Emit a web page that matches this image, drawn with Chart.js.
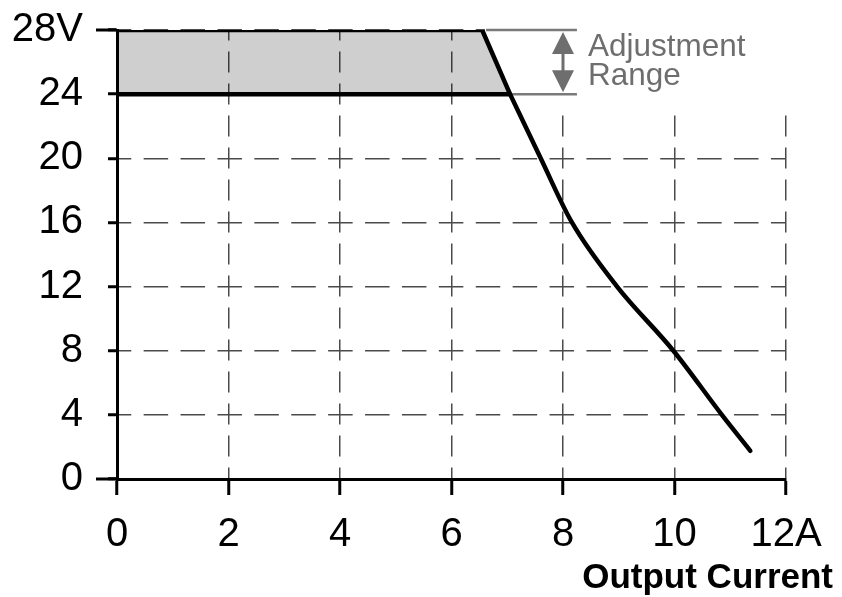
<!DOCTYPE html>
<html lang="en">
<head>
    <meta charset="UTF-8">
    <title>Output Voltage vs Output Current</title>
    <script src="https://cdn.jsdelivr.net/npm/chart.js"></script>
    <style>
        body { margin: 0; background: #fff; }
        canvas { display: block; }
    </style>
</head>
<body>
    <canvas id="curveChart" width="842" height="597"></canvas>

    <script>
        // Axis ticks
        const xTicks = [0, 2, 4, 6, 8, 10, 12];
        const yTicks = [0, 4, 8, 12, 16, 20, 24, 28];

        // Top of the adjustment band (A, V) - flat at 28V then down to 24V
        const bandX = [0, 6.55, 7.05];
        const bandY = [28, 28, 24];
        // Lower edge of the band
        const floorX = [0, 7.05];
        const floorY = [24, 24];
        // Foldback part of the output characteristic
        const curveX = [7.05, 7.6, 8.16, 8.97, 9.98, 10.85, 11.36];
        const curveY = [24, 20, 16, 12, 8, 4, 1.76];

        const rangeLow = 24;
        const rangeHigh = 28;
        const arrowX = 8;
        const extendTo = 8.25;

        const FONT = "'Liberation Sans', Arial, sans-serif";

        // white-out of the grid above the band + adjustment range marks
        const annotate = {
            id: 'annotate',
            beforeDatasetsDraw(chart) {
                const {ctx, scales: {x, y}, chartArea} = chart;
                ctx.save();
                ctx.fillStyle = '#fff';
                ctx.fillRect(x.getPixelForValue(6.6), 0, chart.width, y.getPixelForValue(rangeLow) + 13);
                // longer ticks at 0 and 28
                ctx.strokeStyle = '#000';
                ctx.lineWidth = 3;
                [0, 28].forEach(v => {
                    const py = y.getPixelForValue(v);
                    ctx.beginPath();
                    ctx.moveTo(96, py);
                    ctx.lineTo(chartArea.left, py);
                    ctx.stroke();
                });
                // extension lines
                ctx.strokeStyle = '#7a7a7a';
                ctx.lineWidth = 2.5;
                const xe = x.getPixelForValue(extendTo);
                [[6.62, rangeHigh], [7.05, rangeLow]].forEach(([from, v]) => {
                    const py = y.getPixelForValue(v);
                    ctx.beginPath();
                    ctx.moveTo(x.getPixelForValue(from), py);
                    ctx.lineTo(xe, py);
                    ctx.stroke();
                });
                // double arrow
                const ax = x.getPixelForValue(arrowX);
                const top = y.getPixelForValue(rangeHigh) + 2;
                const bot = y.getPixelForValue(rangeLow) - 2;
                ctx.strokeStyle = '#6e6e6e';
                ctx.fillStyle = '#6e6e6e';
                ctx.lineWidth = 3;
                ctx.beginPath();
                ctx.moveTo(ax, top + 10);
                ctx.lineTo(ax, bot - 10);
                ctx.stroke();
                ctx.beginPath();
                ctx.moveTo(ax, top);
                ctx.lineTo(ax - 11, top + 22);
                ctx.lineTo(ax + 11, top + 22);
                ctx.closePath();
                ctx.fill();
                ctx.beginPath();
                ctx.moveTo(ax, bot);
                ctx.lineTo(ax - 11, bot - 22);
                ctx.lineTo(ax + 11, bot - 22);
                ctx.closePath();
                ctx.fill();
                // label
                ctx.font = '31.5px ' + FONT;
                ctx.textAlign = 'left';
                ctx.textBaseline = 'middle';
                ctx.fillText('Adjustment', ax + 25, 47);
                ctx.fillText('Range', ax + 25, 76);
                ctx.restore();
            },
            afterDraw(chart) {
                const {ctx} = chart;
                ctx.save();
                ctx.fillStyle = '#000';
                ctx.font = 'bold 35px ' + FONT;
                ctx.textAlign = 'right';
                ctx.textBaseline = 'middle';
                ctx.fillText('Output Current', 833, 578);
                ctx.restore();
            }
        };

        const toPoints = (xs, ys) => xs.map((v, i) => ({x: v, y: ys[i]}));

        const gridCommon = {
            color: '#4a4a4a',
            lineWidth: 1.5,
            tickColor: '#000',
            tickWidth: 3,
            tickBorderDash: []
        };

        new Chart(document.getElementById('curveChart'), {
            type: 'scatter',
            data: {
                datasets: [
                    {
                        data: toPoints(bandX, bandY),
                        showLine: true,
                        borderColor: '#000',
                        borderWidth: 4.5,
                        pointRadius: 0,
                        backgroundColor: 'rgba(0,0,0,0.19)',
                        fill: {value: rangeLow}
                    },
                    {
                        data: toPoints(floorX, floorY),
                        showLine: true,
                        borderColor: '#000',
                        borderWidth: 4.5,
                        pointRadius: 0
                    },
                    {
                        data: toPoints(curveX, curveY),
                        showLine: true,
                        borderColor: '#000',
                        borderWidth: 4.5,
                        pointRadius: 0,
                        cubicInterpolationMode: 'monotone',
                        borderCapStyle: 'round'
                    }
                ]
            },
            options: {
                responsive: false,
                animation: false,
                devicePixelRatio: 1,
                layout: { autoPadding: false, padding: {left: 0, top: 30, right: 56, bottom: 0} },
                plugins: { legend: {display: false}, tooltip: {enabled: false} },
                scales: {
                    x: {
                        type: 'linear',
                        min: 0,
                        max: 12,
                        afterBuildTicks: s => { s.ticks = xTicks.map(v => ({value: v})); },
                        afterFit: s => { s.height = 118; s.paddingLeft = 0; s.paddingRight = 0; },
                        ticks: {
                            color: '#000',
                            font: {family: FONT, size: 40},
                            padding: 16,
                            maxRotation: 0,
                            callback: v => v === 12 ? '12A' : String(v)
                        },
                        grid: Object.assign({}, gridCommon, {tickLength: 16}),
                        border: {color: '#000', width: 3, dash: [21, 11], dashOffset: 10.5}
                    },
                    y: {
                        type: 'linear',
                        min: 0,
                        max: 28,
                        afterBuildTicks: s => { s.ticks = yTicks.map(v => ({value: v})); },
                        afterFit: s => { s.width = 117; s.paddingTop = 0; s.paddingBottom = 0; },
                        ticks: {
                            color: '#000',
                            font: {family: FONT, size: 40},
                            padding: 25,
                            callback: v => v === 28 ? '28V' : String(v)
                        },
                        grid: Object.assign({}, gridCommon, {tickLength: 9}),
                        border: {color: '#000', width: 3, dash: [24.5, 12.4], dashOffset: 12.25}
                    }
                }
            },
            plugins: [annotate]
        });
    </script>
</body>
</html>
